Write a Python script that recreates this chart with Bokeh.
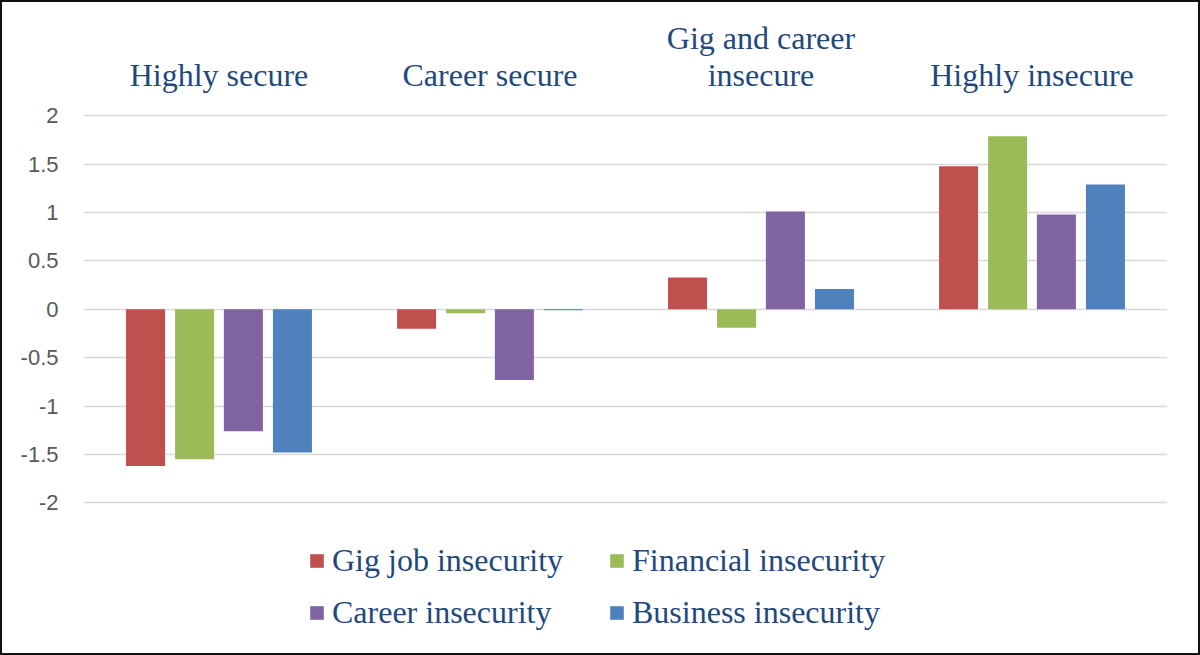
from bokeh.plotting import figure
from bokeh.models import (FactorRange, Range1d, FixedTicker, Legend, LegendItem,
                          ColumnDataSource, InlineStyleSheet)
from bokeh.core.properties import value
from bokeh.transform import dodge
from bokeh.embed import file_html
from bokeh.resources import INLINE

# profiles (clusters) and the four insecurity dimensions
clusters = ["Highly secure", "Career secure", "Gig and career insecure", "Highly insecure"]
cluster_lines = [["Highly secure"], ["Career secure"], ["Gig and career", "insecure"], ["Highly insecure"]]
series = ["Gig job insecurity", "Financial insecurity", "Career insecurity", "Business insecurity"]

gig_job = [-1.62, -0.20, 0.33, 1.48]
financial = [-1.55, -0.04, -0.19, 1.79]
career = [-1.26, -0.73, 1.01, 0.98]
business = [-1.48, -0.01, 0.21, 1.29]

y_ticks = [-2, -1.5, -1, -0.5, 0, 0.5, 1, 1.5, 2]

colors = ["#C0504D", "#9BBB59", "#8064A2", "#4F81BD"]
navy = "#1F497D"
serif = "Liberation Serif"

src = ColumnDataSource(data=dict(cluster=clusters, gig=gig_job, fin=financial,
                                 car=career, bus=business))

# the frame spans the full height so the names on top and the legend below are not clipped;
# only the ticks -2..2 get a grid line
p = figure(width=1200, height=655, x_range=FactorRange(*clusters, range_padding=0),
           y_range=Range1d(-3.578, 3.192), output_backend="svg", toolbar_location=None,
           x_axis_location=None,
           min_border_left=83, min_border_right=33, min_border_top=0, min_border_bottom=0)
# thin black frame round the whole chart
p.stylesheets = [InlineStyleSheet(css=":host::after { content: ''; position: absolute; inset: 0;"
                                      " border: 2px solid #111; pointer-events: none; z-index: 50; }")]
p.outline_line_color = None

offsets = [-0.271, -0.090, 0.090, 0.271]
cols = ["gig", "fin", "car", "bus"]
rends = {}
for name, col, off, c in zip(series, cols, offsets, colors):
    rends[name] = p.vbar(x=dodge("cluster", off, range=p.x_range), top=col, width=0.144,
                         source=src, fill_color=c, line_color=None)

# category names above the bars (long one wraps onto two lines)
lab_x, lab_y, lab_t = [], [], []
for name, lines in zip(clusters, cluster_lines):
    for j, txt in enumerate(lines):
        lab_x.append(name)
        lab_y.append(2.417 + (len(lines) - 1 - j) * 0.39)
        lab_t.append(txt)
p.text(x=lab_x, y=lab_y, text=lab_t, text_align="center", text_baseline="middle",
       text_font=value(serif), text_font_size="32px", text_color=navy)

p.xgrid.grid_line_color = None
p.ygrid.grid_line_color = "#D9D9D9"
p.ygrid.grid_line_width = 1.7

p.yaxis.ticker = FixedTicker(ticks=y_ticks)
p.yaxis.major_label_overrides = {float(v): f"{v:g}" for v in y_ticks}
p.yaxis.axis_line_color = None
p.yaxis.major_tick_line_color = None
p.yaxis.minor_tick_line_color = None
p.yaxis.major_label_standoff = 19
p.yaxis.major_label_text_font = "Liberation Sans"
p.yaxis.major_label_text_font_size = "22px"
p.yaxis.major_label_text_color = "#595959"

# legend: two columns, each its own legend so the column gap can be set
columns = [[series[0], series[2]], [series[1], series[3]]]
col_x = [225, 525]
for names, lx in zip(columns, col_x):
    leg = Legend(items=[LegendItem(label=s, renderers=[rends[s]]) for s in names],
                 location=(lx, 24))
    leg.label_text_font = serif
    leg.label_text_font_size = "32px"
    leg.label_text_color = navy
    leg.glyph_width = 17
    leg.glyph_height = 17
    leg.label_height = 32
    leg.label_standoff = 7
    leg.spacing = 15
    leg.padding = 8
    leg.margin = 0
    leg.border_line_color = None
    leg.background_fill_alpha = 0
    p.add_layout(leg)

open("out.html", "w").write(file_html(p, INLINE))
